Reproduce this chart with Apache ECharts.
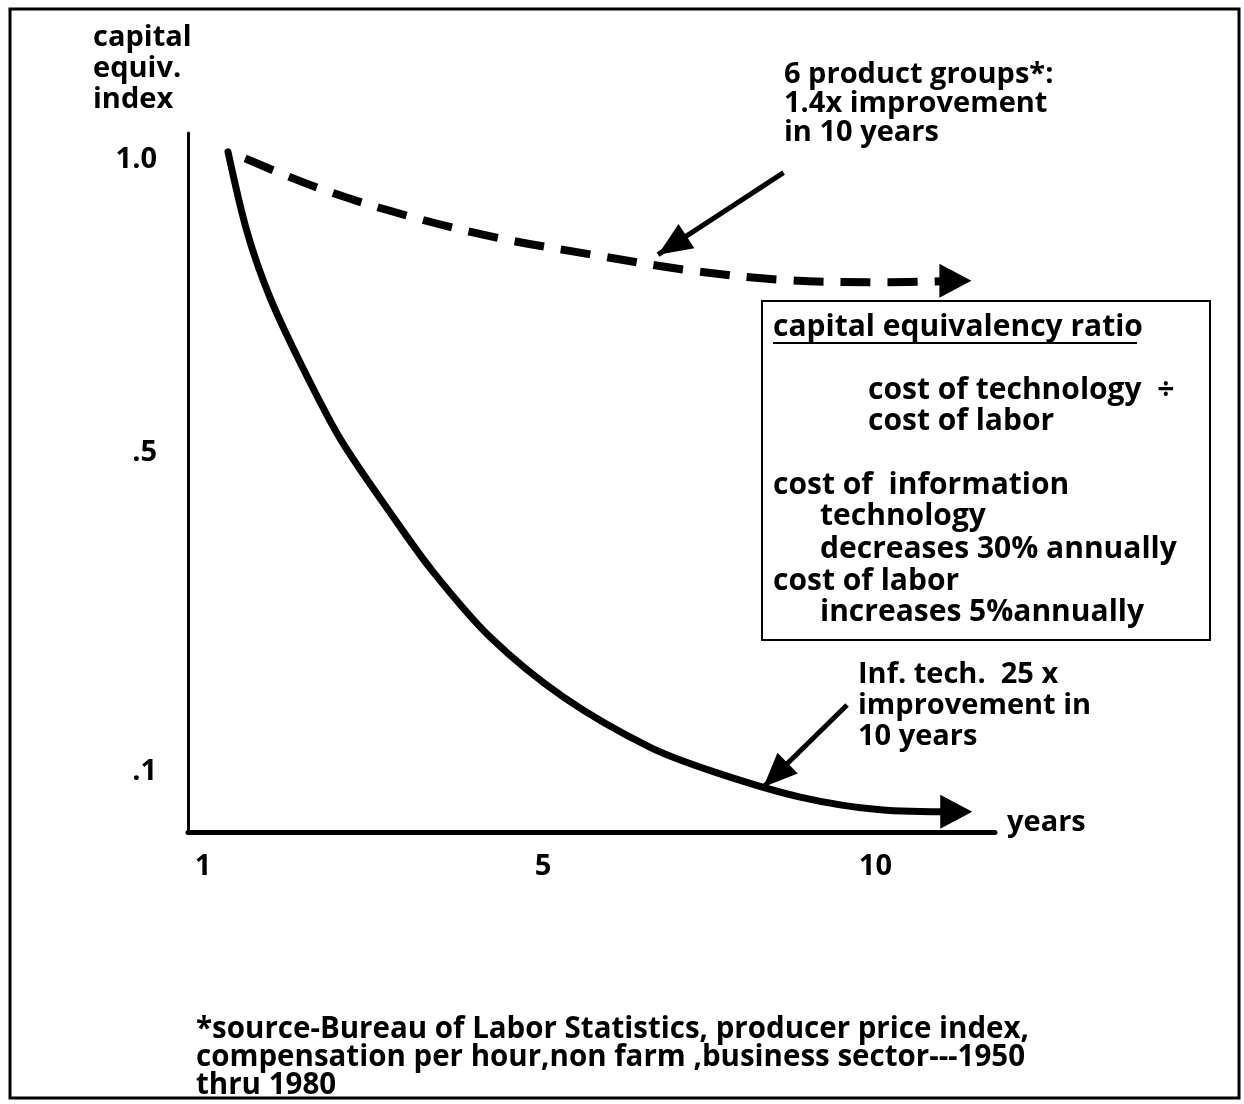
<!DOCTYPE html>
<html lang="en">
<head>
<meta charset="UTF-8">
<title>capital equivalency index</title>
<script src="https://cdn.jsdelivr.net/npm/echarts@6/dist/echarts.min.js"></script>
<style>html,body{margin:0;padding:0;background:#fff;}</style>
</head>
<body>
<div id="chart" style="width:1244px;height:1104px;"></div>
<script>
var FONT = '"Open Sans", "DejaVu Sans", sans-serif';

// schematic axes: x in plotted years, y in capital equivalency index
var xTickVals = [1, 5.55, 10];
var xTickText = ['1', '5', '10'];
var yTickVals = [0.09, 0.565, 1.0];
var yTickText = ['.1', '.5', '1.0'];

// information technology curve (solid)
var infTechX = [1.335, 1.59, 1.898, 2.339, 2.848, 3.544, 4.08, 4.843, 5.82, 6.985, 7.882, 8.993, 10.064, 11.081];
var infTechY = [1.012, 0.893, 0.795, 0.690, 0.583, 0.469, 0.387, 0.290, 0.201, 0.126, 0.088, 0.052, 0.033, 0.030];

// 6 product groups curve (dashed)
var productX = [1.36, 2.50, 3.70, 4.95, 6.21, 7.49, 8.82, 10.16, 11.07];
var productY = [1.012, 0.960, 0.918, 0.884, 0.859, 0.836, 0.821, 0.818, 0.820];

// annotation arrows: [tail, tip]
var arrowProduct = [[8.77, 0.981], [7.09, 0.859]];
var arrowInfTech = [[9.62, 0.189], [8.50, 0.067]];

function toPoints(xs, ys) {
    var pts = xs.map(function (x, i) { return [x, ys[i]]; });
    var last = pts.pop();
    pts.push({
        value: last,
        symbol: 'triangle',
        symbolSize: [34, 32],
        symbolRotate: -90,
        itemStyle: {color: '#000'}
    });
    return pts;
}

function arrowLine(a) {
    return {
        silent: true,
        symbol: ['none', 'triangle'],
        symbolSize: [29, 34],
        symbolOffset: [0, [0, 17]],
        label: {show: false},
        emphasis: {disabled: true},
        lineStyle: {color: '#000', width: 5, type: 'solid'},
        data: [[{coord: a[0]}, {coord: a[1]}]]
    };
}

function txt(x, y, s, size, lh) {
    return {
        type: 'text', x: x, y: y, silent: true,
        style: {
            text: s, fill: '#000',
            font: 'bold ' + (size || 30) + 'px ' + FONT,
            lineHeight: lh || 31,
            align: 'left', verticalAlign: 'middle',
            textAlign: 'left', textVerticalAlign: 'middle'
        }
    };
}

var myChart = echarts.init(document.getElementById('chart'));

var option = {
    backgroundColor: '#fff',
    animation: false,
    grid: {left: 188, right: 249, top: 133, bottom: 272, containLabel: false, outerBoundsMode: 'none'},
    xAxis: {
        type: 'value', min: 0.8, max: 11.6,
        axisLine: {show: true, lineStyle: {color: '#000', width: 5}},
        axisTick: {show: false},
        splitLine: {show: false},
        axisLabel: {
            customValues: xTickVals, margin: 20,
            color: '#000', fontFamily: FONT, fontWeight: 'bold', fontSize: 29,
            formatter: function (v) {
                var i = xTickVals.indexOf(v);
                return i < 0 ? '' : xTickText[i];
            }
        }
    },
    yAxis: {
        type: 'value', min: 0, max: 1.04,
        axisLine: {show: true, lineStyle: {color: '#000', width: 3}},
        axisTick: {show: false},
        splitLine: {show: false},
        axisLabel: {
            customValues: yTickVals, margin: 31,
            color: '#000', fontFamily: FONT, fontWeight: 'bold', fontSize: 29,
            formatter: function (v) {
                var i = yTickVals.indexOf(v);
                return i < 0 ? '' : yTickText[i];
            }
        }
    },
    series: [{
        name: 'Inf. tech.',
        type: 'line',
        data: toPoints(infTechX, infTechY),
        smooth: 0.3,
        symbol: 'none',
        lineStyle: {color: '#000', width: 7, cap: 'round'},
        markLine: arrowLine(arrowInfTech)
    }, {
        name: '6 product groups',
        type: 'line',
        data: toPoints(productX, productY),
        smooth: 0.35,
        symbol: 'none',
        lineStyle: {color: '#000', width: 8, type: [30, 17], dashOffset: 30, cap: 'butt'},
        markLine: arrowLine(arrowProduct)
    }],
    graphic: [
        {type: 'rect', silent: true, shape: {x: 10, y: 9, width: 1229, height: 1089},
            style: {fill: 'none', stroke: '#000', lineWidth: 3}},
        {type: 'rect', silent: true, shape: {x: 762, y: 301, width: 448, height: 339},
            style: {fill: 'none', stroke: '#000', lineWidth: 2}},
        {type: 'line', silent: true, shape: {x1: 773, y1: 343, x2: 1137, y2: 343},
            style: {stroke: '#000', lineWidth: 2}},
        txt(93, 69, 'capital\nequiv.\nindex', 29, 31),
        txt(1007, 823, 'years', 29),
        txt(784, 104, '6 product groups*:\n1.4x improvement\nin 10 years', 29, 29),
        txt(773, 327, 'capital equivalency ratio'),
        txt(868, 390, 'cost of technology  \u00f7'),
        txt(868, 421, 'cost of labor'),
        txt(773, 485, 'cost of  information'),
        txt(820, 516, 'technology'),
        txt(820, 549, 'decreases 30% annually'),
        txt(773, 581, 'cost of labor'),
        txt(820, 612, 'increases 5%annually'),
        txt(858, 706, 'Inf. tech.  25 x\nimprovement in\n10 years', 29, 31),
        txt(196, 1058, '*source-Bureau of Labor Statistics, producer price index,\ncompensation per hour,non farm ,business sector---1950\nthru 1980', 29.5, 28)
    ]
};
myChart.setOption(option);
</script>
</body>
</html>
